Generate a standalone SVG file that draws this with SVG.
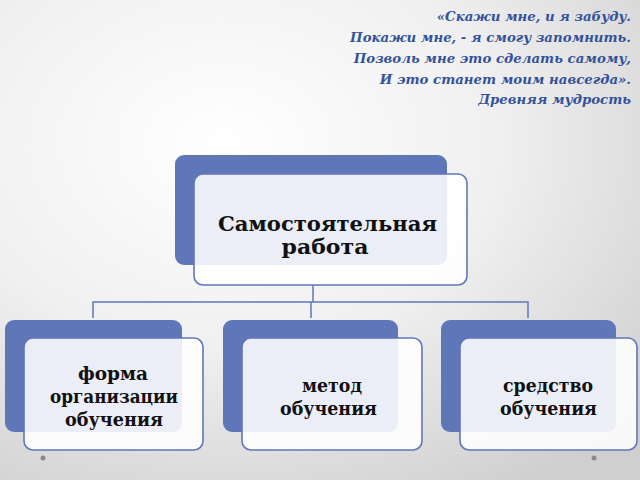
<svg xmlns="http://www.w3.org/2000/svg" width="640" height="480" viewBox="0 0 640 480">
<defs>
<radialGradient id="bg" cx="0.35" cy="0.3" r="0.85">
<stop offset="0" stop-color="#ffffff"/>
<stop offset="0.5" stop-color="#f0f0f0"/>
<stop offset="1" stop-color="#cfcfcf"/>
</radialGradient>
<style>
.back{fill:#5f77b9;}
.front{fill:#ffffff;fill-opacity:0.88;stroke:#5f77b9;stroke-width:1.6;}
.lbl{font-family:"DejaVu Serif","Liberation Serif",serif;font-weight:bold;fill:#111;text-anchor:middle;}
.quote{font-family:"DejaVu Serif","Liberation Serif",serif;font-style:italic;font-weight:bold;fill:#34529a;font-size:13.3px;text-anchor:end;}
.conn{fill:none;stroke:#5f77b9;stroke-width:1.5;}
.dot{fill:#8a8a8a;}
</style>
</defs>
<rect width="640" height="480" fill="url(#bg)"/>
<g id="quote">
<text class="quote" x="631" y="21">«Скажи мне, и я забуду.</text>
<text class="quote" x="631" y="42">Покажи мне, - я смогу запомнить.</text>
<text class="quote" x="631" y="63">Позволь мне это сделать самому,</text>
<text class="quote" x="631" y="84">И это станет моим навсегда».</text>
<text class="quote" x="631" y="104">Древняя мудрость</text>
</g>
<g id="connectors">
<path class="conn" d="M313 285 V302 M93 318 V302 H528 V318 M311 302 V318"/>
</g>
<g id="node-top">
<rect class="back" x="175" y="155" width="272" height="110" rx="9"/>
<rect class="front" x="194" y="174" width="273" height="111" rx="9"/>
<text class="lbl" font-size="21" x="327.5" y="231" textLength="219" lengthAdjust="spacingAndGlyphs">Самостоятельная</text>
<text class="lbl" font-size="21" x="325" y="254" textLength="87" lengthAdjust="spacingAndGlyphs">работа</text>
</g>
<g id="node-forma">
<rect class="back" x="5" y="320" width="177" height="112" rx="9"/>
<rect class="front" x="24" y="338" width="179" height="112" rx="9"/>
<text class="lbl" font-size="18" x="113" y="380" textLength="70" lengthAdjust="spacingAndGlyphs">форма</text>
<text class="lbl" font-size="18" x="114" y="403" textLength="128" lengthAdjust="spacingAndGlyphs">организации</text>
<text class="lbl" font-size="18" x="114" y="426" textLength="98" lengthAdjust="spacingAndGlyphs">обучения</text>
</g>
<g id="node-metod">
<rect class="back" x="223" y="320" width="175" height="112" rx="9"/>
<rect class="front" x="242" y="338" width="180" height="112" rx="9"/>
<text class="lbl" font-size="18" x="332" y="392" textLength="60" lengthAdjust="spacingAndGlyphs">метод</text>
<text class="lbl" font-size="18" x="328.5" y="415" textLength="97" lengthAdjust="spacingAndGlyphs">обучения</text>
</g>
<g id="node-sredstvo">
<rect class="back" x="441" y="320" width="175" height="112" rx="9"/>
<rect class="front" x="460" y="338" width="177" height="112" rx="9"/>
<text class="lbl" font-size="18" x="548" y="392" textLength="90" lengthAdjust="spacingAndGlyphs">средство</text>
<text class="lbl" font-size="18" x="548.5" y="415" textLength="97" lengthAdjust="spacingAndGlyphs">обучения</text>
</g>
<circle class="dot" cx="43" cy="458" r="2.5"/>
<circle class="dot" cx="594" cy="458" r="2.5"/>
</svg>
